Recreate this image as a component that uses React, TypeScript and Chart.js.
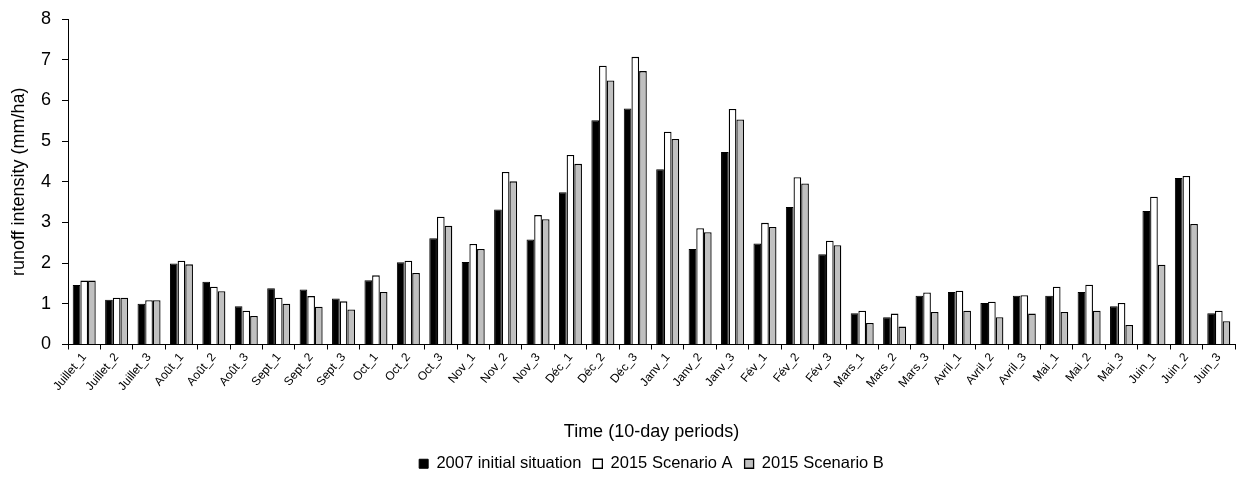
import React, { useEffect, useRef } from "react";
import { Chart, registerables } from "chart.js";

Chart.register(...registerables);

const categories = [
  "Juillet_1", "Juillet_2", "Juillet_3", "Août_1", "Août_2", "Août_3",
  "Sept_1", "Sept_2", "Sept_3", "Oct_1", "Oct_2", "Oct_3",
  "Nov_1", "Nov_2", "Nov_3", "Déc_1", "Déc_2", "Déc_3",
  "Janv_1", "Janv_2", "Janv_3", "Fév_1", "Fév_2", "Fév_3",
  "Mars_1", "Mars_2", "Mars_3", "Avril_1", "Avril_2", "Avril_3",
  "Mai_1", "Mai_2", "Mai_3", "Juin_1", "Juin_2", "Juin_3",
];

const initial2007 = [
  1.46, 1.10, 1.00, 1.99, 1.54, 0.94, 1.38, 1.35, 1.13, 1.58, 2.02, 2.61,
  2.03, 3.32, 2.58, 3.74, 5.51, 5.80, 4.31, 2.35, 4.73, 2.48, 3.38, 2.22,
  0.77, 0.67, 1.20, 1.29, 1.02, 1.20, 1.20, 1.29, 0.94, 3.28, 4.09, 0.77,
];

const scenarioA2015 = [
  1.57, 1.15, 1.09, 2.06, 1.42, 0.83, 1.15, 1.19, 1.06, 1.70, 2.06, 3.14,
  2.47, 4.24, 3.18, 4.66, 6.85, 7.07, 5.23, 2.86, 5.79, 2.99, 4.11, 2.55,
  0.83, 0.76, 1.28, 1.32, 1.05, 1.21, 1.42, 1.47, 1.02, 3.63, 4.14, 0.83,
];

const scenarioB2015 = [
  1.57, 1.15, 1.09, 1.97, 1.31, 0.70, 1.00, 0.93, 0.86, 1.29, 1.76, 2.92,
  2.35, 4.01, 3.08, 4.44, 6.49, 6.72, 5.05, 2.76, 5.53, 2.89, 3.96, 2.44,
  0.53, 0.44, 0.80, 0.83, 0.67, 0.76, 0.80, 0.83, 0.48, 1.96, 2.96, 0.57,
];

const seriesNames = ["2007 initial situation", "2015 Scenario A", "2015 Scenario B"];
const yTicks = [0, 1, 2, 3, 4, 5, 6, 7, 8];

const FONT = "'Liberation Sans', Arial, sans-serif";

export default function App() {
  const canvasRef = useRef<HTMLCanvasElement | null>(null);

  useEffect(() => {
    document.body.style.margin = "0";
    const canvas = canvasRef.current;
    if (!canvas) return;
    Chart.defaults.color = "#000";
    Chart.defaults.font.family = FONT;

    const chart = new Chart(canvas, {
      type: "bar",
      data: {
        labels: categories,
        datasets: [
          { label: seriesNames[0], data: initial2007, backgroundColor: "#000000", borderColor: "#000000", borderWidth: 1 },
          { label: seriesNames[1], data: scenarioA2015, backgroundColor: "#ffffff", borderColor: "#000000", borderWidth: 1.3 },
          { label: seriesNames[2], data: scenarioB2015, backgroundColor: "#c0c0c0", borderColor: "#000000", borderWidth: 1.3 },
        ],
      },
      options: {
        responsive: false,
        animation: false,
        layout: { padding: { top: 19, right: 4, bottom: 4, left: 0 } },
        datasets: { bar: { categoryPercentage: 0.71, barPercentage: 1.0 } },
        plugins: {
          tooltip: { enabled: false },
          legend: {
            position: "bottom",
            fullSize: false,
            labels: { font: { size: 16.5, family: FONT }, color: "#000", boxWidth: 9, boxHeight: 9, padding: 12 },
          },
        },
        scales: {
          x: {
            offset: true,
            grid: { display: true, offset: true, drawOnChartArea: false, drawTicks: true, tickLength: 5, color: "#000", lineWidth: 1 },
            border: { display: true, color: "#000", width: 1 },
            ticks: { font: { size: 12, family: FONT }, color: "#000", minRotation: 50, maxRotation: 50, autoSkip: false, padding: 1 },
            title: { display: true, text: "Time (10-day periods)", font: { size: 18, family: FONT }, color: "#000", padding: { top: 6, bottom: 1 } },
            afterFit: (scale: any) => {
              scale.height = 99;
              scale.paddingLeft = 0;
              scale.paddingRight = 0;
            },
          },
          y: {
            min: 0,
            max: 8,
            afterBuildTicks: (scale: any) => { scale.ticks = yTicks.map((v) => ({ value: v })); },
            grid: { display: true, drawOnChartArea: false, drawTicks: true, tickLength: 6, color: "#000" },
            border: { display: true, color: "#000", width: 1 },
            ticks: { font: { size: 18, family: FONT }, color: "#000", padding: 11 },
            title: { display: true, text: "runoff intensity (mm/ha)", font: { size: 18, family: FONT }, color: "#000", padding: { top: 8, bottom: 0 } },
            afterFit: (scale: any) => {
              scale.width = 68;
              scale.paddingTop = 0;
              scale.paddingBottom = 0;
            },
          },
        },
      },
    });
    return () => chart.destroy();
  }, []);

  return (
    <div style={{ position: "fixed", left: 0, top: 0, width: 1239, height: 486, background: "#fff" }}>
      <canvas ref={canvasRef} width={1239} height={486} style={{ display: "block" }} />
    </div>
  );
}
